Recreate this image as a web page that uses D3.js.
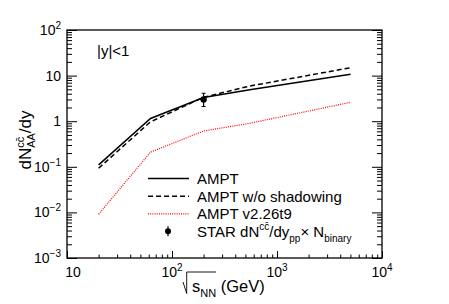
<!DOCTYPE html>
<html>
<head>
<meta charset="utf-8">
<script src="https://cdn.jsdelivr.net/npm/d3@7"></script>
<style>
  body { margin: 0; background: #fff; }
  text { font-family: "Liberation Sans", Arial, sans-serif; }
</style>
</head>
<body>
<div id="chart"></div>
<script>
// Data
const energies = [20, 62.4, 200, 550, 5020]
const amptValues = [0.11, 1.15, 3.3, 4.9, 10.7]
const noShadowValues = [0.093, 0.97, 3.35, 5.9, 14.9]
const v226Values = [0.0091, 0.21, 0.61, 0.9, 2.6]
const starEnergy = [200]
const starValue = [3.0]
const starLow = [2.1]
const starHigh = [4.1]
const xTickPowers = [1, 2, 3, 4]
const yTickPowers = [2, 1, 0, -1, -2, -3]
const legendLabels = ["AMPT", "AMPT w/o shadowing", "AMPT v2.26t9"]

var width = 449
var height = 304
var plotL = 67, plotR = 382, plotT = 30, plotB = 258

const svg = d3.select('#chart').append('svg')
  .attr("width", width)
  .attr("height", height)

const x = d3.scaleLog().domain([10, 1e4]).range([plotL, plotR])
const y = d3.scaleLog().domain([1e-3, 1e2]).range([plotB, plotT])

// minor tick values
let xMinor = [], yMinor = []
for (let p = 1; p < 4; p++) for (let m = 2; m < 10; m++) xMinor.push(m * Math.pow(10, p))
for (let p = -3; p < 2; p++) for (let m = 2; m < 10; m++) yMinor.push(m * Math.pow(10, p))

// Axes (ticks inside, ROOT style)
const axes = svg.append("g")
axes.append("g").attr("transform", "translate(0," + plotB + ")")
  .call(d3.axisBottom(x).tickValues(xTickPowers.map(p => Math.pow(10, p))).tickSize(-7).tickFormat(""))
axes.append("g").attr("transform", "translate(0," + plotB + ")")
  .call(d3.axisBottom(x).tickValues(xMinor).tickSize(-3.5).tickFormat(""))
axes.append("g").attr("transform", "translate(" + plotL + ",0)")
  .call(d3.axisLeft(y).tickValues(yTickPowers.map(p => Math.pow(10, p))).tickSize(-10).tickFormat(""))
axes.append("g").attr("transform", "translate(" + plotL + ",0)")
  .call(d3.axisLeft(y).tickValues(yMinor).tickSize(-5).tickFormat(""))
axes.append("g").attr("transform", "translate(" + plotR + ",0)")
  .call(d3.axisRight(y).tickValues(yTickPowers.map(p => Math.pow(10, p))).tickSize(-10).tickFormat(""))
axes.append("g").attr("transform", "translate(" + plotR + ",0)")
  .call(d3.axisRight(y).tickValues(yMinor).tickSize(-5).tickFormat(""))
axes.selectAll(".domain").remove()
axes.selectAll("line").attr("stroke", "#000").attr("stroke-width", 1)

// Frame
svg.append("rect")
  .attr("x", plotL).attr("y", plotT)
  .attr("width", plotR - plotL).attr("height", plotB - plotT)
  .attr("fill", "none").attr("stroke", "#000").attr("stroke-width", 1.3)

// power-of-ten label helper
function powLabel(sel, p) {
  if (p === 0) { sel.append("tspan").text("1"); return }
  if (p === 1) { sel.append("tspan").text("10"); return }
  sel.append("tspan").text("10")
  sel.append("tspan").attr("dy", -6).attr("font-size", 10)
    .text(p < 0 ? "\u2212" + (-p) : String(p))
}

// X tick labels
xTickPowers.forEach(p => {
  const t = svg.append("text")
    .attr("x", x(Math.pow(10, p)) + (p === 1 ? 6 : 0))
    .attr("y", 277)
    .attr("text-anchor", "middle")
    .attr("font-size", 14)
  powLabel(t, p)
})

// Y tick labels
yTickPowers.forEach(p => {
  const t = svg.append("text")
    .attr("x", 61)
    .attr("y", y(Math.pow(10, p)) + 5)
    .attr("text-anchor", "end")
    .attr("font-size", 14)
  powLabel(t, p)
})

// X title
const xt = svg.append("text").attr("x", 192).attr("y", 292).attr("font-size", 16.5)
xt.append("tspan").text("s")
xt.append("tspan").attr("dy", 5).attr("font-size", 11).text("NN")
xt.append("tspan").attr("dy", -5).text(" (GeV)")
svg.append("path")
  .attr("d", "M183,282 L186.7,293.5 L186.7,272 L216,272")
  .attr("fill", "none").attr("stroke", "#000").attr("stroke-width", 0.9)

// Y title
const yt = svg.append("text")
  .attr("transform", "translate(31,140) rotate(-90)")
  .attr("text-anchor", "middle")
  .attr("font-size", 17)
yt.append("tspan").text("dN")
const ysup = yt.append("tspan").attr("dy", -7).attr("font-size", 11).text("cc\u0304")
const ysub = yt.append("tspan").attr("dy", 11).attr("font-size", 11).text("AA")
yt.append("tspan").attr("dy", -4).text("/dy")
ysub.attr("dx", -ysup.node().getComputedTextLength())

// |y|<1
svg.append("text").attr("x", 97).attr("y", 56).attr("font-size", 15).text("|y|<1")

// Curves
const line = d3.line().x(d => x(d[0])).y(d => y(d[1]))
const series = [
  { vals: amptValues, color: "#000", dash: null, w: 1.5 },
  { vals: noShadowValues, color: "#000", dash: "5,3", w: 1.5 },
  { vals: v226Values, color: "#ff0000", dash: "1,1.2", w: 1.2 }
]
series.forEach(s => {
  svg.append("path")
    .datum(energies.map((e, i) => [e, s.vals[i]]))
    .attr("d", line)
    .attr("fill", "none")
    .attr("stroke", s.color)
    .attr("stroke-width", s.w)
    .attr("stroke-dasharray", s.dash)
})

// STAR point
const star = svg.append("g")
starEnergy.forEach((e, i) => {
  star.append("line").attr("x1", x(e)).attr("x2", x(e))
    .attr("y1", y(starLow[i])).attr("y2", y(starHigh[i]))
    .attr("stroke", "#000").attr("stroke-width", 1.2)
  ;[starLow[i], starHigh[i]].forEach(v => {
    star.append("line").attr("x1", x(e) - 2).attr("x2", x(e) + 2)
      .attr("y1", y(v)).attr("y2", y(v)).attr("stroke", "#000")
  })
  star.append("circle").attr("cx", x(e)).attr("cy", y(starValue[i])).attr("r", 3.2).attr("fill", "#000")
})

// Legend
const legend = svg.append("g")
const rowY = [178.5, 196.2, 213.8, 231.2]
series.forEach((s, i) => {
  legend.append("line")
    .attr("x1", 148).attr("x2", 189)
    .attr("y1", rowY[i]).attr("y2", rowY[i])
    .attr("stroke", s.color).attr("stroke-width", s.w)
    .attr("stroke-dasharray", s.dash)
  legend.append("text").attr("x", 197).attr("y", rowY[i] + 5.5)
    .attr("font-size", 15).text(legendLabels[i])
})
legend.append("line").attr("x1", 168).attr("x2", 168)
  .attr("y1", rowY[3] - 5).attr("y2", rowY[3] + 5)
  .attr("stroke", "#000").attr("stroke-width", 1.2)
legend.append("circle").attr("cx", 168).attr("cy", rowY[3]).attr("r", 3).attr("fill", "#000")
const st = legend.append("text").attr("x", 197).attr("y", rowY[3] + 5.5).attr("font-size", 15)
st.append("tspan").text("STAR dN")
st.append("tspan").attr("dy", -7).attr("font-size", 10).text("cc\u0304")
st.append("tspan").attr("dy", 7).text("/dy")
st.append("tspan").attr("dy", 5).attr("font-size", 10).text("pp")
st.append("tspan").attr("dy", -5).text("\u00d7 N")
st.append("tspan").attr("dy", 5).attr("font-size", 10).text("binary")
</script>
</body>
</html>
